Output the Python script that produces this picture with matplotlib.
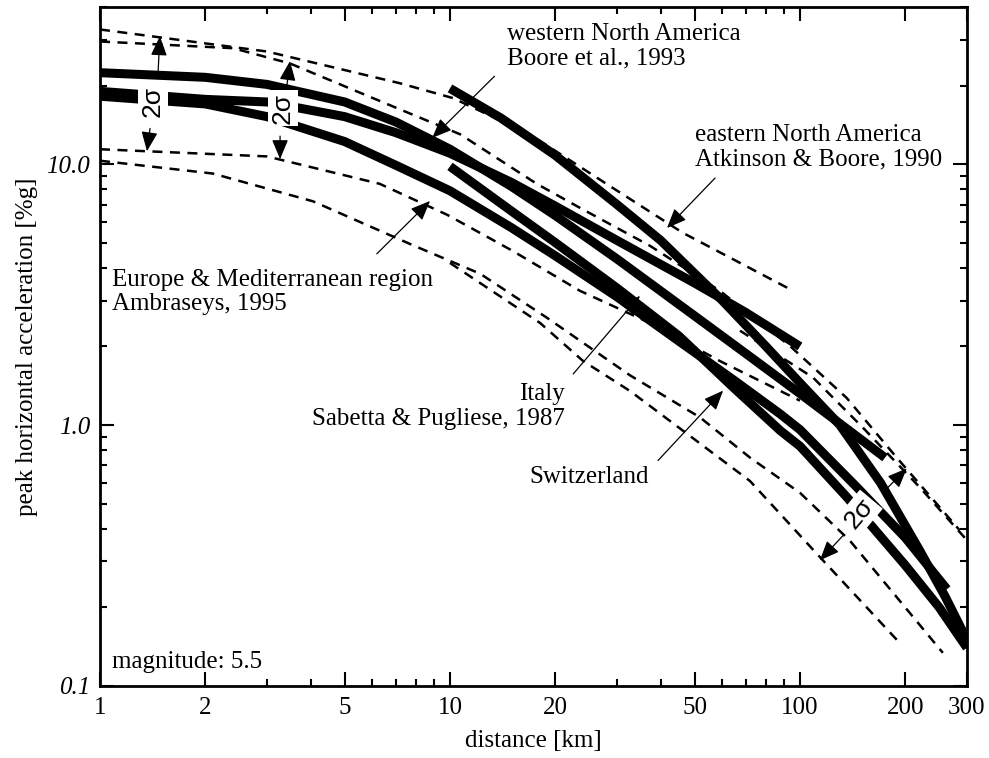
import matplotlib
matplotlib.use("Agg")
import matplotlib.pyplot as plt
from matplotlib.ticker import FixedLocator, FixedFormatter, NullFormatter

# attenuation curves, magnitude 5.5 -- distance [km] vs peak horizontal acceleration [%g]
italy_x = [1, 2, 3, 5, 7, 10, 15, 20, 30, 50, 70, 100, 140, 175]
italy_y = [22.4, 21.5, 20.2, 17.3, 14.5, 11.4, 8.2, 6.35, 4.33, 2.62, 1.88, 1.32, 0.94, 0.75]

wna_x = [1, 2, 3, 5, 7, 10, 15, 20, 30, 50, 70, 100]
wna_y = [19.0, 17.7, 17.3, 15.2, 13.2, 11.0, 8.5, 6.9, 5.1, 3.5, 2.7, 2.0]

europe_x = [1, 2, 3, 5, 7, 10, 15, 20, 30, 45, 65, 88, 100, 145, 200, 263]
europe_y = [18.2, 17.0, 15.2, 12.2, 9.9, 7.9, 5.7, 4.45, 3.1, 2.1, 1.48, 1.1, 0.96, 0.58, 0.37, 0.235]

swiss_x = [10, 15, 20, 30, 45, 65, 88, 100, 136, 200, 250, 300]
swiss_y = [9.8, 6.6, 5.0, 3.35, 2.2, 1.38, 0.95, 0.83, 0.53, 0.29, 0.2, 0.14]

ena_x = [10, 14, 20, 30, 40, 60, 80, 100, 130, 170, 220, 260, 300]
ena_y = [19.5, 15.0, 10.8, 7.0, 5.1, 3.0, 2.0, 1.45, 1.0, 0.6, 0.33, 0.22, 0.15]

# sigma bounds (dashed)
d1_x = [1, 3.0, 7.2, 10.2, 16.9, 29.2, 46.3, 95.5]
d1_y = [32.8, 27.0, 20.4, 17.9, 13.0, 8.1, 5.45, 3.27]
d2_x = [1, 2.4, 3.49, 7.2, 10.7, 17.7, 23.5, 37.3, 59, 93.6, 136, 189, 286]
d2_y = [29.5, 27.8, 24.3, 16.2, 13.0, 8.4, 6.8, 4.86, 3.27, 2.01, 1.27, 0.75, 0.395]
d3_x = [1, 3.0, 6.3, 9.8, 15.1, 23.5, 37.3, 59, 100]
d3_y = [11.4, 10.7, 8.4, 6.4, 4.65, 3.27, 2.46, 1.76, 1.24]
d4_x = [1, 2.1, 4.06, 7.8, 12.2, 18.9, 32.7, 51.8, 72, 100, 139, 256]
d4_y = [10.3, 9.2, 7.2, 4.9, 3.8, 2.58, 1.55, 1.07, 0.75, 0.55, 0.36, 0.134]
d5_x = [10, 18.1, 24, 32.7, 51.8, 72, 112, 193]
d5_y = [4.18, 2.46, 1.76, 1.35, 0.85, 0.61, 0.32, 0.146]
d6_x = [67.4, 109, 151, 220, 300]
d6_y = [2.3, 1.52, 0.98, 0.577, 0.362]

xticks = [1, 2, 5, 10, 20, 50, 100, 200, 300]
xminor = [3, 4, 6, 7, 8, 9, 30, 40, 60, 70, 80, 90]
yticks = [0.1, 1, 10]
ylabels = ["0.1", "1.0", "10.0"]

serif = "Liberation Serif"
fs = 18

fig = plt.figure(figsize=(9.89, 7.58), dpi=100)
ax = fig.add_axes([0.1011, 0.0950, 0.8766, 0.8958])
ax.set_xscale("log")
ax.set_yscale("log")

thick = dict(color="black", lw=6.5, solid_capstyle="butt", solid_joinstyle="round", zorder=3)
dash = dict(color="black", lw=1.8, linestyle=(0, (4, 3)), zorder=2)

for dx, dy in [(d1_x, d1_y), (d2_x, d2_y), (d3_x, d3_y), (d4_x, d4_y),
               (d5_x, d5_y), (d6_x, d6_y)]:
    ax.plot(dx, dy, **dash)
for cx, cy in [(italy_x, italy_y), (wna_x, wna_y), (europe_x, europe_y),
               (swiss_x, swiss_y), (ena_x, ena_y)]:
    ax.plot(cx, cy, **thick)

ax.set_xlim(1, 300)
ax.set_ylim(0.1, 40)

# ticks
ax.xaxis.set_major_locator(FixedLocator(xticks))
ax.xaxis.set_major_formatter(FixedFormatter([str(t) for t in xticks]))
ax.xaxis.set_minor_locator(FixedLocator(xminor))
ax.xaxis.set_minor_formatter(NullFormatter())
ax.yaxis.set_major_locator(FixedLocator(yticks))
ax.yaxis.set_major_formatter(FixedFormatter(ylabels))
ax.tick_params(which="both", direction="in", top=True, right=True, width=1.5)
ax.tick_params(which="major", length=10)
ax.tick_params(which="minor", length=5)
ax.tick_params(axis="x", pad=8)
ax.tick_params(axis="y", pad=7)
for lab in ax.get_xticklabels():
    lab.set_fontfamily(serif)
    lab.set_fontsize(fs)
for lab in ax.get_yticklabels():
    lab.set_fontfamily(serif)
    lab.set_fontsize(fs)
    lab.set_fontstyle("italic")
for sp in ax.spines.values():
    sp.set_linewidth(2)

ax.set_xlabel("distance [km]", fontfamily=serif, fontsize=fs, labelpad=8)
ax.set_ylabel("peak horizontal acceleration [%g]", fontfamily=serif, fontsize=fs, labelpad=6)

arrow = dict(arrowstyle="-|>,head_length=0.6,head_width=0.25", color="black",
             lw=0.9, shrinkA=0, shrinkB=0, mutation_scale=20)
tkw = dict(fontfamily=serif, fontsize=fs, linespacing=1.15, zorder=6)

ax.text(14.6, 28.3, "western North America\nBoore et al., 1993", ha="left", va="center", **tkw)
ax.annotate("", xy=(8.9, 12.6), xytext=(13.4, 21.7), arrowprops=arrow, zorder=6)

ax.text(50.1, 11.6, "eastern North America\nAtkinson & Boore, 1990", ha="left", va="center", **tkw)
ax.annotate("", xy=(41.7, 5.69), xytext=(57.2, 8.84), arrowprops=arrow, zorder=6)

ax.text(1.08, 3.24, "Europe & Mediterranean region\nAmbraseys, 1995", ha="left", va="center", **tkw)
ax.annotate("", xy=(8.77, 7.22), xytext=(6.18, 4.53), arrowprops=arrow, zorder=6)

ax.text(21.3, 1.18, "Italy\nSabetta & Pugliese, 1987", ha="right", va="center", multialignment="right", **tkw)
ax.annotate("", xy=(34.9, 3.13), xytext=(22.5, 1.57), arrowprops=arrow, zorder=6)

ax.text(16.9, 0.63, "Switzerland", ha="left", va="center", **tkw)
ax.annotate("", xy=(60.3, 1.355), xytext=(39.3, 0.731), arrowprops=arrow, zorder=6)

ax.text(1.08, 0.1236, "magnitude: 5.5", ha="left", va="center", **tkw)

# 2 sigma markers
skw = dict(fontfamily="Liberation Sans", fontsize=19, ha="center", va="center", zorder=5,
           bbox=dict(facecolor="white", edgecolor="none", pad=2))
ax.text(1.417, 17.4, "2σ", rotation=90, **skw)
ax.annotate("", xy=(1.483, 30.9), xytext=(1.465, 22.3), arrowprops=arrow, zorder=6)
ax.annotate("", xy=(1.362, 11.2), xytext=(1.39, 13.7), arrowprops=arrow, zorder=6)

ax.text(3.33, 16.4, "2σ", rotation=90, **skw)
ax.annotate("", xy=(3.49, 24.8), xytext=(3.42, 20.0), arrowprops=arrow, zorder=6)
ax.annotate("", xy=(3.27, 10.45), xytext=(3.27, 12.8), arrowprops=arrow, zorder=6)

ax.text(148, 0.459, "2σ", rotation=50, **skw)
ax.annotate("", xy=(202, 0.682), xytext=(175, 0.562), arrowprops=arrow, zorder=6)
ax.annotate("", xy=(114, 0.303), xytext=(133, 0.378), arrowprops=arrow, zorder=6)

fig.savefig("out.png", dpi=100)
